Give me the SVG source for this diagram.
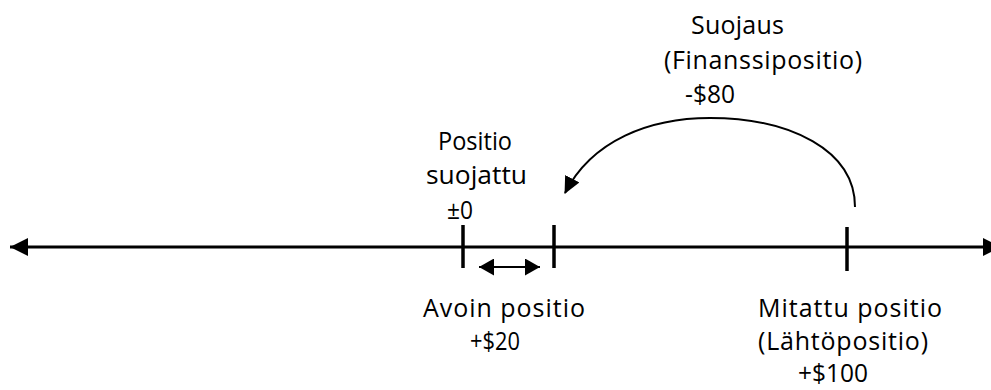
<svg xmlns="http://www.w3.org/2000/svg" width="991" height="390" viewBox="0 0 991 390">
<style>
  text { font-family: "Open Sans", "Liberation Sans", sans-serif; font-size: 25px; fill: #000; }
  .axis { stroke: #000; stroke-width: 3; fill: none; }
  .tick { stroke: #000; stroke-width: 3.5; fill: none; }
  .thin { stroke: #000; stroke-width: 2; fill: none; }
</style>
<defs>
  <marker id="headBig" markerUnits="userSpaceOnUse" markerWidth="18" markerHeight="18" viewBox="0 0 16 16" refX="16" refY="8" orient="auto-start-reverse">
    <path d="M0,0 L16,8 L0,16 Z" fill="#000"/>
  </marker>
  <marker id="headSmall" markerUnits="userSpaceOnUse" markerWidth="16" markerHeight="17" viewBox="0 0 16 17" refX="15" refY="8.5" orient="auto-start-reverse">
    <path d="M0,0 L15,8.5 L0,17 Z" fill="#000"/>
  </marker>
  <marker id="headCurve" markerUnits="userSpaceOnUse" markerWidth="18" markerHeight="16" viewBox="0 0 18 16" refX="16" refY="8" orient="auto">
    <path d="M0,0 L17,8 L0,16 Z" fill="#000"/>
  </marker>
</defs>
<g id="connectors">
  <path id="axis" class="axis" d="M10,247 H1001" marker-start="url(#headBig)" marker-end="url(#headBig)"/>
  <path id="open-span" class="thin" d="M479,267 H540" marker-start="url(#headSmall)" marker-end="url(#headSmall)"/>
  <path id="hedge-arc" class="thin" d="M855,207 C855,150 790,118 710,118 C650,118 592,140 565,193" marker-end="url(#headCurve)"/>
</g>
<g id="tick-hedged">
  <line class="tick" x1="463" y1="225" x2="463" y2="268"/>
  <text x="438" y="150" textLength="74" lengthAdjust="spacingAndGlyphs">Positio</text>
  <text x="426" y="184" textLength="101" lengthAdjust="spacingAndGlyphs">suojattu</text>
  <text x="447" y="219" textLength="26" lengthAdjust="spacingAndGlyphs">±0</text>
</g>
<g id="tick-open">
  <line class="tick" x1="554" y1="225" x2="554" y2="268"/>
  <text x="423" y="317" textLength="162" lengthAdjust="spacing">Avoin positio</text>
  <text x="470" y="350" textLength="50" lengthAdjust="spacingAndGlyphs">+$20</text>
</g>
<g id="tick-measured">
  <line class="tick" x1="847" y1="227" x2="847" y2="271"/>
  <text x="758" y="317" textLength="184" lengthAdjust="spacing">Mitattu positio</text>
  <text x="758" y="350" textLength="170" lengthAdjust="spacing">(Lähtöpositio)</text>
  <text x="798" y="382" textLength="70" lengthAdjust="spacingAndGlyphs">+$100</text>
</g>
<g id="hedge-label">
  <text x="691" y="34" textLength="93" lengthAdjust="spacing">Suojaus</text>
  <text x="664" y="69" textLength="198" lengthAdjust="spacing">(Finanssipositio)</text>
  <text x="685" y="103" textLength="50" lengthAdjust="spacingAndGlyphs">-$80</text>
</g>
</svg>
